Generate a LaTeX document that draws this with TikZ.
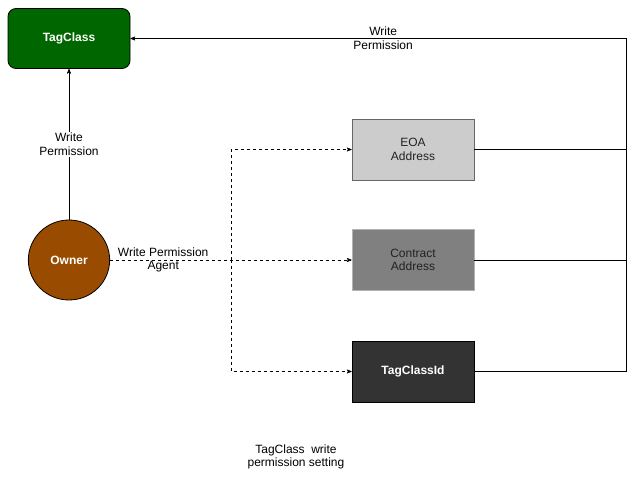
\documentclass[tikz,border=0pt]{standalone}
\usepackage{fontspec}
\setmainfont{Liberation Sans}
\usetikzlibrary{arrows}
\usetikzlibrary{shapes.geometric}
\definecolor{node_green}{RGB}{0,102,0}
\definecolor{node_brown}{RGB}{153,76,0}
\definecolor{node_light}{RGB}{204,204,204}
\definecolor{edge_light}{RGB}{102,102,102}
\definecolor{node_mid}{RGB}{128,128,128}
\definecolor{edge_mid}{RGB}{179,179,179}
\definecolor{node_dark}{RGB}{51,51,51}
\definecolor{text_dark}{RGB}{34,34,34}
\begin{document}
\begin{tikzpicture}[x=0.75pt,y=-0.75pt,semithick,>=stealth',font=\fontsize{9}{10.2}\selectfont]
    \tikzstyle{label}=[text=black,align=center,inner sep=1pt]
    \tikzstyle{account}=[draw, rectangle, minimum width=91.5pt, minimum height=45.75pt, align=center]
    \tikzstyle{accounteoa}=[style=account,fill=node_light,draw=edge_light,text=text_dark]
    \tikzstyle{accountct}=[style=account,fill=node_mid,draw=edge_mid,text=text_dark]
    \tikzstyle{accountid}=[style=account,fill=node_dark,draw=black,text=white,font=\fontsize{9}{10.2}\selectfont\bfseries]
    \tikzstyle{wire}=[->,thin]
    \tikzstyle{agentwire}=[->,thin,dashed,dash pattern=on 2.25pt off 2.25pt]

    \useasboundingbox (0,0) rectangle (640,481);

    \node[draw, rounded corners=6pt, fill=node_green, text=white, font=\fontsize{9}{10.2}\selectfont\bfseries,
          minimum width=91.5pt, minimum height=45pt] (T) at (69,38.5) {TagClass};
    \node[draw, ellipse, fill=node_brown, text=white, font=\fontsize{9}{10.2}\selectfont\bfseries,
          minimum width=61pt, minimum height=60pt, inner sep=0pt] (O) at (69,260) {Owner};
    \node[accounteoa] (E) at (413,149.5) {EOA\\Address};
    \node[accountct]  (C) at (413,260)   {Contract\\Address};
    \node[accountid]  (I) at (413,371.5) {TagClassId};

    \coordinate (S) at (231,260);
    \coordinate (R) at (626,38.5);

    % owner to tagclass
    \draw[wire] (O) -- node[label,fill=white] {Write\\Permission} (T);
    % owner to the three agents
    \draw[agentwire] (O) -- node[label,pos=0.22] {Write Permission\\Agent} (C);
    \draw[agentwire] (S) |- (E);
    \draw[agentwire] (S) |- (I);
    % agents back to tagclass
    \draw[thin] (E) -- (E -| R);
    \draw[thin] (C) -- (C -| R);
    \draw[wire] (I) -| (R) -- node[label,pos=0.49] {Write\\Permission} (T);

    \node[label] (caption) at (296,457) {TagClass\ \ write\\permission setting};
\end{tikzpicture}
\end{document}
